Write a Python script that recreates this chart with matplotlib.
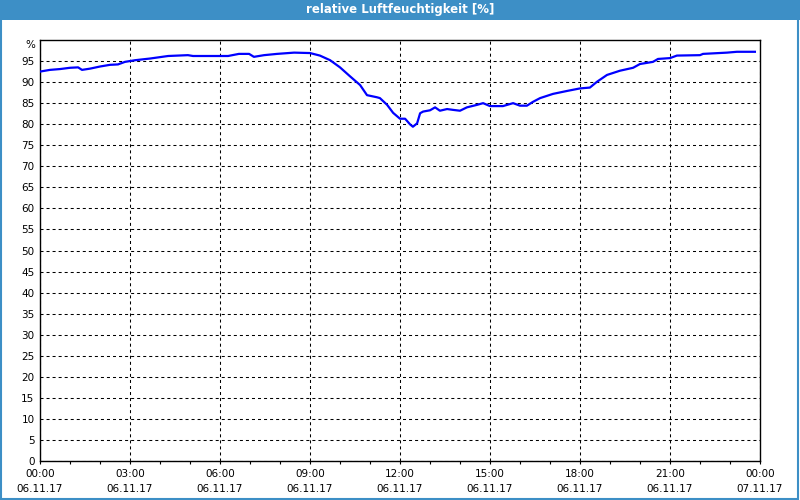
# Relative humidity over one day (06.11.17), recreated with matplotlib.

import matplotlib.pyplot as plt
from matplotlib.patches import Rectangle
from matplotlib.transforms import blended_transform_factory

# hours since 06.11.17 00:00 and relative humidity in %
hours = [0.0, 0.33, 0.67, 1.0, 1.27, 1.4, 1.67, 2.0, 2.33, 2.6, 2.83, 3.17,
         3.67, 4.27, 4.93, 5.1, 6.27, 6.63, 6.97, 7.13, 7.47, 7.9, 8.47, 9.0,
         9.33, 9.67, 10.0, 10.33, 10.67, 10.9, 11.23, 11.33, 11.57, 11.77,
         12.0, 12.17, 12.33, 12.43, 12.57, 12.67, 12.77, 13.0, 13.17, 13.33,
         13.57, 13.77, 14.0, 14.23, 14.57, 14.77, 15.0, 15.43, 15.77, 16.0,
         16.23, 16.43, 16.67, 17.1, 17.57, 18.0, 18.33, 18.57, 18.9, 19.33,
         19.77, 20.0, 20.43, 20.6, 21.0, 21.23, 22.0, 22.1, 22.9, 23.23, 23.83]
humidity = [92.5, 92.9, 93.1, 93.4, 93.5, 92.9, 93.2, 93.7, 94.1, 94.2, 94.8,
            95.2, 95.6, 96.2, 96.4, 96.2, 96.2, 96.7, 96.7, 96.0, 96.4, 96.7,
            97.0, 96.9, 96.3, 95.2, 93.5, 91.4, 89.3, 86.9, 86.4, 86.2, 84.6,
            82.7, 81.3, 81.3, 80.0, 79.4, 80.2, 82.6, 83.0, 83.3, 84.0, 83.2,
            83.6, 83.4, 83.2, 84.0, 84.6, 85.0, 84.3, 84.3, 85.0, 84.4, 84.4,
            85.3, 86.2, 87.2, 87.9, 88.5, 88.7, 90.1, 91.7, 92.7, 93.4, 94.3,
            94.8, 95.5, 95.7, 96.3, 96.4, 96.7, 97.0, 97.2, 97.2]

x_ticks = [0, 3, 6, 9, 12, 15, 18, 21, 24]
x_labels = ['00:00\n06.11.17', '03:00\n06.11.17', '06:00\n06.11.17',
            '09:00\n06.11.17', '12:00\n06.11.17', '15:00\n06.11.17',
            '18:00\n06.11.17', '21:00\n06.11.17', '00:00\n07.11.17']
y_ticks = list(range(0, 100, 5))

frame_blue = '#3d8fc6'

fig = plt.figure(figsize=(8, 5), dpi=100)
fig.patch.set_facecolor('white')

# title bar and outer frame
fig.add_artist(Rectangle((0, 0.96), 1, 0.04, transform=fig.transFigure,
                         facecolor=frame_blue, edgecolor='none'))
fig.add_artist(Rectangle((0.001, 0.002), 0.997, 0.996, transform=fig.transFigure,
                         facecolor='none', edgecolor=frame_blue, linewidth=1.5))
fig.text(0.5, 0.98, 'relative Luftfeuchtigkeit [%]', color='white',
         fontsize=8.5, fontweight='bold', ha='center', va='center')

ax = fig.add_axes([0.05, 0.078, 0.9, 0.842])
ax.plot(hours, humidity, color='#0000ff', linewidth=1.6, zorder=3)

ax.set_xlim(0, 24)
ax.set_ylim(0, 100)
ax.set_xticks(x_ticks)
ax.set_xticklabels(x_labels, fontsize=7.5, linespacing=1.6)
ax.set_xticks(range(0, 25), minor=True)
ax.set_yticks(y_ticks)
ax.set_yticklabels([str(v) for v in y_ticks], fontsize=7.5)

ax.tick_params(axis='x', which='both', direction='out', length=2, width=0.8, pad=4)
ax.tick_params(axis='y', length=0, pad=4)

ax.grid(True, which='major', color='black', linestyle=(0, (2.9, 2.9)), linewidth=0.75)

trans = blended_transform_factory(ax.transAxes, ax.transData)
ax.text(-0.006, 98.9, '%', transform=trans, fontsize=7.5, ha='right', va='center')

for s in ax.spines.values():
    s.set_linewidth(1.0)
    s.set_color('black')

fig.savefig('out.png', dpi=100)
